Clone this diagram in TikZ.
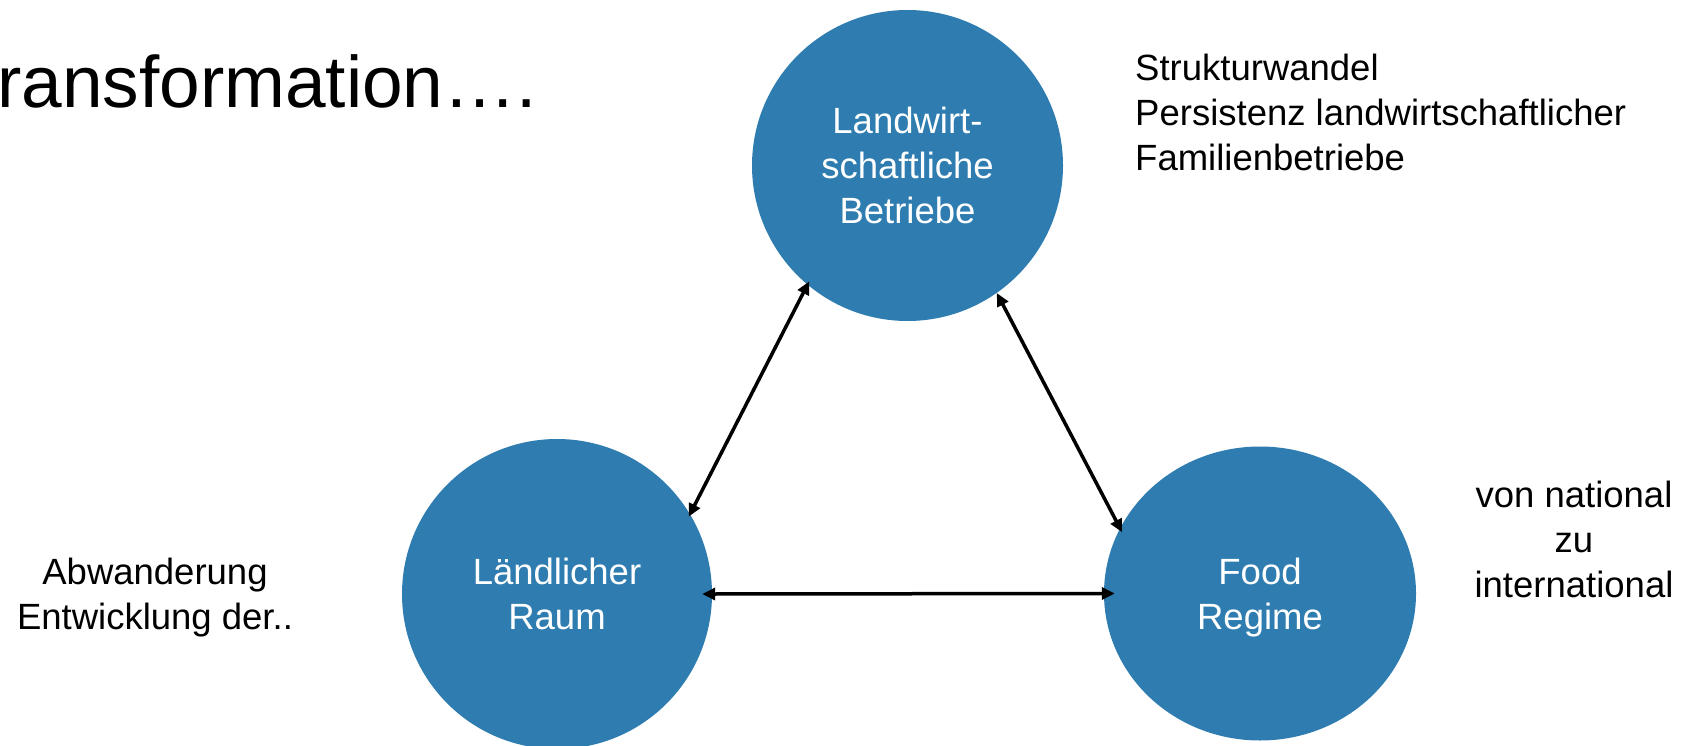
\documentclass[tikz,border=0pt]{standalone}
\usepackage{fontspec}
\setmainfont{Liberation Sans}
\usetikzlibrary{arrows.meta,shapes.geometric}
\definecolor{discblue}{RGB}{47,125,176}
\begin{document}
\begin{tikzpicture}[x=1pt,y=-1pt,
  disc/.style={fill=discblue, draw=none, inner sep=0pt, text=white, align=center,
    font=\fontsize{36.5}{45}\selectfont, text depth=0pt},
  note/.style={inner sep=0pt, align=center, font=\fontsize{36.5}{45}\selectfont},
  link/.style={{Triangle[length=13pt,width=12pt]}-{Triangle[length=13pt,width=12pt]}, line width=3.5pt, draw=black}
]
\useasboundingbox (0,0) rectangle (1686,746);

\node[anchor=base west, inner sep=0pt, font=\fontsize{73}{88}\selectfont] (title) at (-3,108) {ransformation….};

\node[disc, circle, minimum size=311pt] (farm) at (907.5,165.5) {Landwirt-\\schaftliche\\Betriebe};
\node[disc, circle, minimum size=310pt] (rural) at (557,594) {Ländlicher\\Raum};
\node[disc, ellipse, minimum width=312pt, minimum height=294pt] (food) at (1260,593.5) {Food\\Regime};

\node[note] (ruraltext) at (155,598) {Abwanderung\\Entwicklung der..};
\node[note] (foodtext) at (1574,539.7) {von national\\zu\\international};
\node[note, align=left, anchor=north west] (farmtext) at (1135,53.4) {Strukturwandel\\Persistenz landwirtschaftlicher\\Familienbetriebe};

\draw[link, shorten <=-3.8pt, shorten >=-3pt] (farm.-130) -- (rural.31.3);
\draw[link, shorten >=-4.6pt] (farm.-55.8) -- (food.155.8);
\draw[link, shorten <=-10pt, shorten >=-11pt] (rural.east) -- (food.west);
\end{tikzpicture}
\end{document}
